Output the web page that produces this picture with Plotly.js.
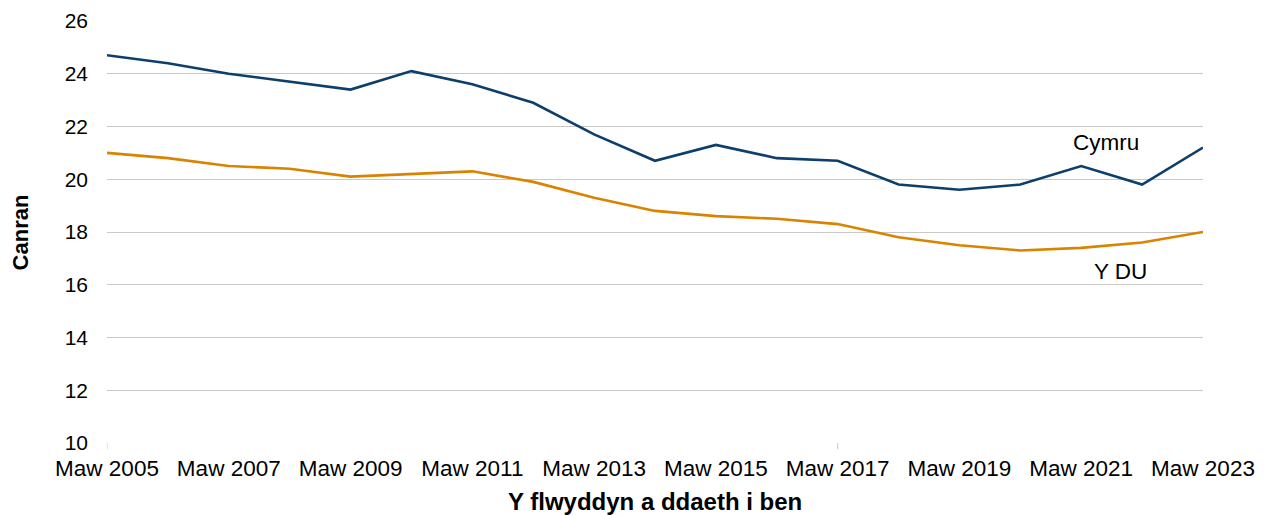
<!DOCTYPE html>
<html>
<head>
<meta charset="utf-8">
<script src="https://cdn.plot.ly/plotly-3.0.1.min.js"></script>
<style>html,body{margin:0;padding:0;background:#fff;}#chart{width:1264px;height:515px;}</style>
</head>
<body>
<div id="chart"></div>
<script>
const years = ["Maw 2005","Maw 2006","Maw 2007","Maw 2008","Maw 2009","Maw 2010","Maw 2011","Maw 2012","Maw 2013","Maw 2014","Maw 2015","Maw 2016","Maw 2017","Maw 2018","Maw 2019","Maw 2020","Maw 2021","Maw 2022","Maw 2023"];
const cymru = [24.7,24.4,24.0,23.7,23.4,24.1,23.6,22.9,21.7,20.7,21.3,20.8,20.7,19.8,19.6,19.8,20.5,19.8,21.2];
const yDU = [21.0,20.8,20.5,20.4,20.1,20.2,20.3,19.9,19.3,18.8,18.6,18.5,18.3,17.8,17.5,17.3,17.4,17.6,18.0];
const tickLabels = ["Maw 2005","Maw 2007","Maw 2009","Maw 2011","Maw 2013","Maw 2015","Maw 2017","Maw 2019","Maw 2021","Maw 2023"];
const seriesNames = ["Cymru","Y DU"];

const xIdx = years.map((_, i) => i);
const tickVals = tickLabels.map(t => years.indexOf(t));

const font = "Liberation Sans, Arial, sans-serif";
const data = [
  {x: xIdx, y: cymru, name: seriesNames[0], type: "scatter", mode: "lines", line: {color: "#0D3F6C", width: 2.6}},
  {x: xIdx, y: yDU, name: seriesNames[1], type: "scatter", mode: "lines", line: {color: "#D98300", width: 2.6}}
];
const layout = {
  width: 1264, height: 515,
  margin: {l: 107, r: 61, t: 21, b: 72},
  paper_bgcolor: "#fff", plot_bgcolor: "#fff",
  showlegend: false,
  font: {family: font, size: 21, color: "#000"},
  xaxis: {
    range: [0, 18], tickvals: tickVals, ticktext: tickLabels,
    showgrid: false, zeroline: false, showline: false,
    ticks: "", tickfont: {size: 22.5}, ticklabelstandoff: 9
  },
  yaxis: {
    range: [10, 26], dtick: 2, tick0: 10,
    showgrid: true, gridcolor: "#C8C8C8", gridwidth: 1,
    zeroline: false, showline: false, ticks: "",
    tickfont: {size: 21}, ticklabelstandoff: 18
  },
  annotations: [
    {text: "<b>Y flwyddyn a ddaeth i ben</b>", xref: "paper", yref: "paper", x: 0.5, y: -0.139, xanchor: "center", yanchor: "middle", showarrow: false, font: {size: 24}},
    {text: "<b>Canran</b>", xref: "paper", yref: "paper", x: -0.079, y: 0.5, xanchor: "center", yanchor: "middle", textangle: -90, showarrow: false, font: {size: 22}},
    {text: seriesNames[0], xref: "x", yref: "y", x: 16.4, y: 21.4, xanchor: "center", yanchor: "middle", showarrow: false, font: {size: 22.5}},
    {text: seriesNames[1], xref: "x", yref: "y", x: 16.65, y: 16.5, xanchor: "center", yanchor: "middle", showarrow: false, font: {size: 22.5}}
  ],
  shapes: [
    {type: "line", xref: "x", yref: "paper", x0: 0, x1: 0, y0: 0, y1: -0.015, line: {color: "#C8C8C8", width: 1}},
    {type: "line", xref: "x", yref: "paper", x0: 12, x1: 12, y0: 0, y1: -0.015, line: {color: "#C8C8C8", width: 1}}
  ]
};
Plotly.newPlot("chart", data, layout, {displayModeBar: false, staticPlot: true});
</script>
</body>
</html>
